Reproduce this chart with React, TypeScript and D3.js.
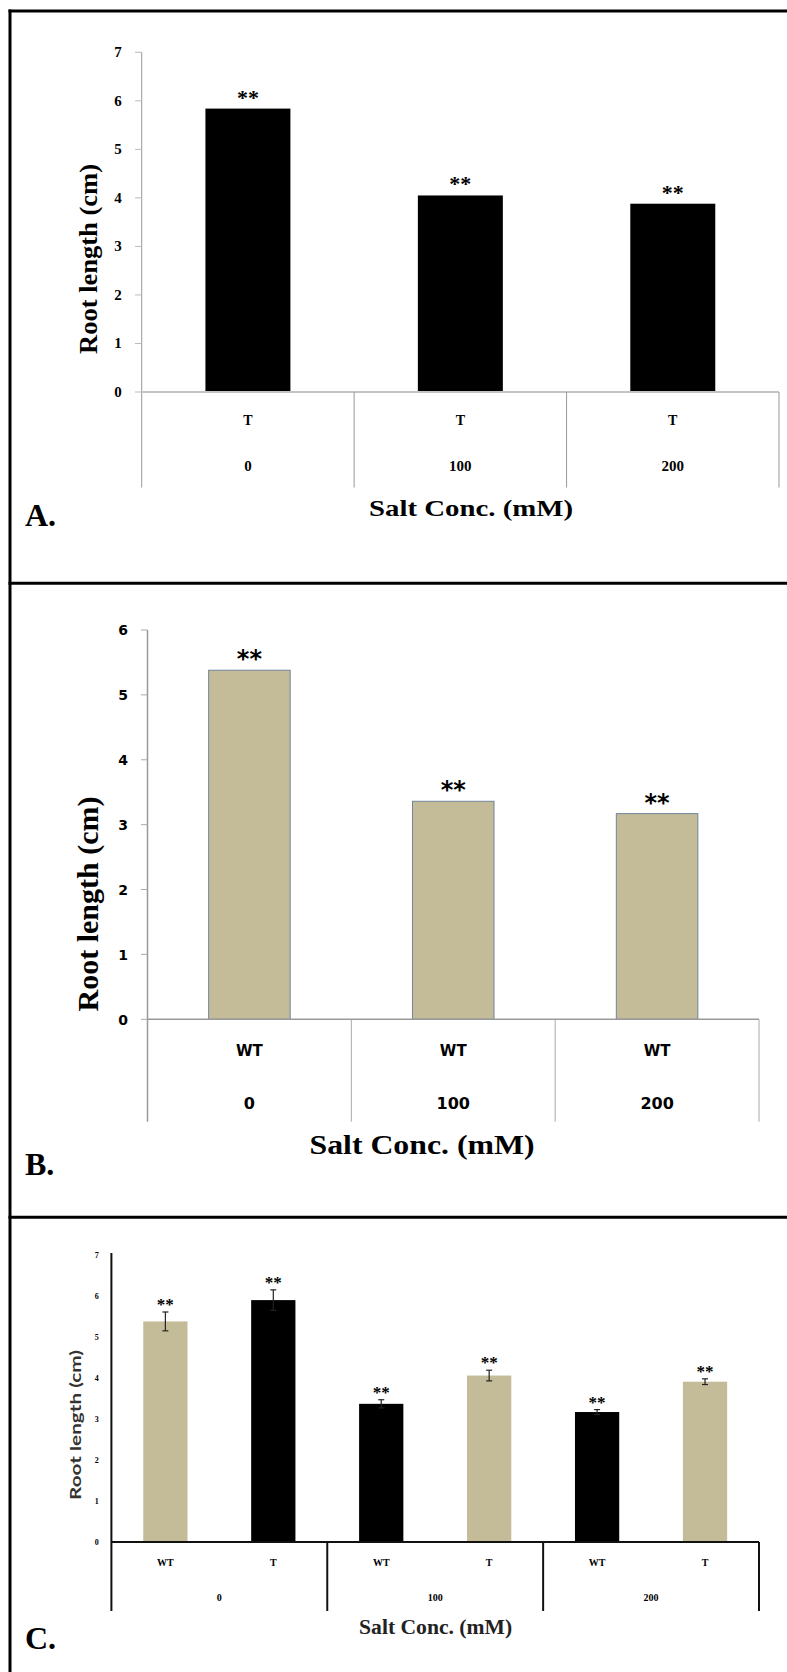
import React from 'react';
import * as d3 from 'd3';

// salt levels shared by all three panels
const saltLevels = ['0', '100', '200'];
const genotypes = ['WT', 'T'];

// panel A: transgenic (T) root length
const yTicksA = [0, 1, 2, 3, 4, 5, 6, 7];
const rootT_A = [5.84, 4.05, 3.88];

// panel B: wild type (WT) root length
const yTicksB = [0, 1, 2, 3, 4, 5, 6];
const rootWT_B = [5.38, 3.36, 3.17];

// panel C: both genotypes with error bars
const yTicksC = [0, 1, 2, 3, 4, 5, 6, 7];
const rootWT_C = [5.38, 3.37, 3.17];
const rootT_C = [5.9, 4.06, 3.91];
const errWT_C = [0.23, 0.1, 0.06];
const errT_C = [0.25, 0.13, 0.07];

const signif = '**';
const yTitle = 'Root length (cm)';
const xTitle = 'Salt Conc. (mM)';

const TAN = '#c4bc98';
const BLACK = '#000';
// colours of panel C bars as they appear, group by group (WT, T)
const fillsC = [[TAN, BLACK], [BLACK, TAN], [BLACK, TAN]];

const SERIF = '"Liberation Serif", "Times New Roman", serif';
const VERDANA = '"DejaVu Sans", Verdana, sans-serif';
const SANS = 'Lato, "Open Sans", sans-serif';

function PanelA() {
  const x = d3.scaleBand().domain(saltLevels).range([141.7, 779]);
  const y = d3.scaleLinear().domain([0, 7]).range([392, 52.3]);
  const bw = x.bandwidth() * 0.4;
  const bottom = 487.5;
  return (
    <g>
      <line x1={141.7} x2={141.7} y1={y(7)} y2={bottom} stroke="#999" strokeWidth={1} />
      {yTicksA.map((t) => (
        <g key={t}>
          <line x1={135} x2={141.7} y1={y(t)} y2={y(t)} stroke="#bbb" strokeWidth={1} />
          <text x={118} y={y(t) + 5} textAnchor="middle" fontFamily={SERIF} fontWeight="bold" fontSize={15}>{t}</text>
        </g>
      ))}
      {rootT_A.map((v, i) => {
        const cx = x(saltLevels[i])! + x.bandwidth() / 2;
        return (
          <g key={i}>
            <rect x={cx - bw / 2} y={y(v)} width={bw} height={y(0) - y(v)} fill={BLACK} />
            <text x={cx} y={y(v) - 14 + 10} textAnchor="middle" fontFamily={SERIF} fontWeight="bold" fontSize={22}>{signif}</text>
            <text x={cx} y={424.5} textAnchor="middle" fontFamily={SERIF} fontWeight="bold" fontSize={14}>T</text>
            <text x={cx} y={471} textAnchor="middle" fontFamily={SERIF} fontWeight="bold" fontSize={15}>{saltLevels[i]}</text>
          </g>
        );
      })}
      <line x1={141.7} x2={779} y1={y(0)} y2={y(0)} stroke="#c4c4c4" strokeWidth={2} />
      {saltLevels.map((s) => (
        <line key={s} x1={x(s)! + x.bandwidth()} x2={x(s)! + x.bandwidth()} y1={y(0)} y2={bottom} stroke="#999" strokeWidth={1} />
      ))}
      <text transform="translate(97,259) rotate(-90)" textAnchor="middle" fontFamily={SERIF} fontWeight="bold" fontSize={26} textLength={190} lengthAdjust="spacingAndGlyphs">{yTitle}</text>
      <text x={471} y={515.5} textAnchor="middle" fontFamily={SERIF} fontWeight="bold" fontSize={23} textLength={204} lengthAdjust="spacingAndGlyphs">{xTitle}</text>
      <text x={25} y={526} fontFamily={SERIF} fontWeight="bold" fontSize={32}>A.</text>
    </g>
  );
}

function PanelB() {
  const x = d3.scaleBand().domain(saltLevels).range([147.5, 759]);
  const y = d3.scaleLinear().domain([0, 6]).range([1019.3, 630]);
  const bw = x.bandwidth() * 0.4;
  const bottom = 1121.7;
  return (
    <g>
      <line x1={147.5} x2={147.5} y1={y(6)} y2={bottom} stroke="#999" strokeWidth={1.5} />
      {yTicksB.map((t) => (
        <g key={t}>
          <line x1={141} x2={147.5} y1={y(t)} y2={y(t)} stroke="#aaa" strokeWidth={1} />
          <text x={123} y={y(t) + 5.2} textAnchor="middle" fontFamily={VERDANA} fontWeight="bold" fontSize={14}>{t}</text>
        </g>
      ))}
      {rootWT_B.map((v, i) => {
        const cx = x(saltLevels[i])! + x.bandwidth() / 2;
        return (
          <g key={i}>
            <rect x={cx - bw / 2} y={y(v)} width={bw} height={y(0) - y(v)} fill={TAN} stroke="#71859a" strokeWidth={1} />
            <text x={cx} y={y(v) - 15 + 12} textAnchor="middle" fontFamily={VERDANA} fontWeight="bold" fontSize={24}>{signif}</text>
            <text x={cx} y={1055.8} textAnchor="middle" fontFamily={VERDANA} fontWeight="bold" fontSize={15}>WT</text>
            <text x={cx} y={1108.5} textAnchor="middle" fontFamily={VERDANA} fontWeight="bold" fontSize={16}>{saltLevels[i]}</text>
          </g>
        );
      })}
      <line x1={147.5} x2={759} y1={y(0)} y2={y(0)} stroke="#999" strokeWidth={1.5} />
      {saltLevels.map((s) => (
        <line key={s} x1={x(s)! + x.bandwidth()} x2={x(s)! + x.bandwidth()} y1={y(0)} y2={bottom} stroke="#aaa" strokeWidth={1} />
      ))}
      <text transform="translate(97.6,904) rotate(-90)" textAnchor="middle" fontFamily={SERIF} fontWeight="bold" fontSize={30} textLength={215} lengthAdjust="spacingAndGlyphs">{yTitle}</text>
      <text x={422} y={1154} textAnchor="middle" fontFamily={SERIF} fontWeight="bold" fontSize={28} textLength={225} lengthAdjust="spacingAndGlyphs">{xTitle}</text>
      <text x={25} y={1175} fontFamily={SERIF} fontWeight="bold" fontSize={32}>B.</text>
    </g>
  );
}

function PanelC() {
  const xg = d3.scaleBand().domain(saltLevels).range([111.4, 759]);
  const xs = d3.scaleBand().domain(genotypes).range([0, xg.bandwidth()]);
  const y = d3.scaleLinear().domain([0, 7]).range([1542, 1255]);
  const bw = xs.bandwidth() * 0.41;
  const bottom = 1611;
  const series = [
    { name: 'WT', vals: rootWT_C, errs: errWT_C },
    { name: 'T', vals: rootT_C, errs: errT_C },
  ];
  return (
    <g>
      <line x1={111.4} x2={111.4} y1={1253} y2={bottom} stroke="#111" strokeWidth={2} />
      {yTicksC.map((t) => (
        <text key={t} x={96.7} y={y(t) + 3} textAnchor="middle" fontFamily={SERIF} fontWeight="bold" fontSize={8}>{t}</text>
      ))}
      {saltLevels.map((s, gi) =>
        series.map((sr, si) => {
          const v = sr.vals[gi];
          const e = sr.errs[gi];
          const cx = xg(s)! + xs(sr.name)! + xs.bandwidth() / 2;
          return (
            <g key={s + sr.name}>
              <rect x={cx - bw / 2} y={y(v)} width={bw} height={y(0) - y(v)} fill={fillsC[gi][si]} />
              <line x1={cx} x2={cx} y1={y(v + e)} y2={y(v - e)} stroke="#222" strokeWidth={1.2} />
              <line x1={cx - 3} x2={cx + 3} y1={y(v + e)} y2={y(v + e)} stroke="#222" strokeWidth={1.2} />
              <line x1={cx - 3} x2={cx + 3} y1={y(v - e)} y2={y(v - e)} stroke="#222" strokeWidth={1.2} />
              <text x={cx} y={y(v + e) - 10 + 8} textAnchor="middle" fontFamily={SERIF} fontWeight="bold" fontSize={17}>{signif}</text>
              <text x={cx} y={1565.5} textAnchor="middle" fontFamily={SERIF} fontWeight="bold" fontSize={10}>{sr.name}</text>
            </g>
          );
        })
      )}
      {saltLevels.map((s) => (
        <g key={s}>
          <text x={xg(s)! + xg.bandwidth() / 2} y={1600.5} textAnchor="middle" fontFamily={SERIF} fontWeight="bold" fontSize={10}>{s}</text>
          <line x1={xg(s)! + xg.bandwidth()} x2={xg(s)! + xg.bandwidth()} y1={y(0)} y2={bottom} stroke="#111" strokeWidth={2} />
        </g>
      ))}
      <line x1={111.4} x2={759} y1={y(0)} y2={y(0)} stroke="#111" strokeWidth={2} />
      <text transform="translate(80.7,1425) rotate(-90)" textAnchor="middle" fontFamily={SANS} fontWeight="bold" fontSize={16} textLength={150} lengthAdjust="spacingAndGlyphs" fill="#333">{yTitle}</text>
      <text x={435.6} y={1634} textAnchor="middle" fontFamily={SERIF} fontWeight="bold" fontSize={20} textLength={153} lengthAdjust="spacingAndGlyphs" fill="#222">{xTitle}</text>
      <text x={25} y={1648.7} fontFamily={SERIF} fontWeight="bold" fontSize={32}>C.</text>
    </g>
  );
}

export default function App() {
  return (
    <svg width={787} height={1672} style={{ position: 'absolute', left: 0, top: 0, display: 'block', background: '#fff' }}>
      <rect x={0} y={0} width={787} height={1672} fill="#fff" />
      {/* figure frame */}
      <line x1={10} x2={10} y1={9.5} y2={1672} stroke="#000" strokeWidth={3} />
      <line x1={8.5} x2={787} y1={11} y2={11} stroke="#000" strokeWidth={3} />
      <line x1={8.5} x2={787} y1={583.3} y2={583.3} stroke="#000" strokeWidth={3} />
      <line x1={8.5} x2={787} y1={1217.3} y2={1217.3} stroke="#000" strokeWidth={3} />
      <PanelA />
      <PanelB />
      <PanelC />
    </svg>
  );
}
